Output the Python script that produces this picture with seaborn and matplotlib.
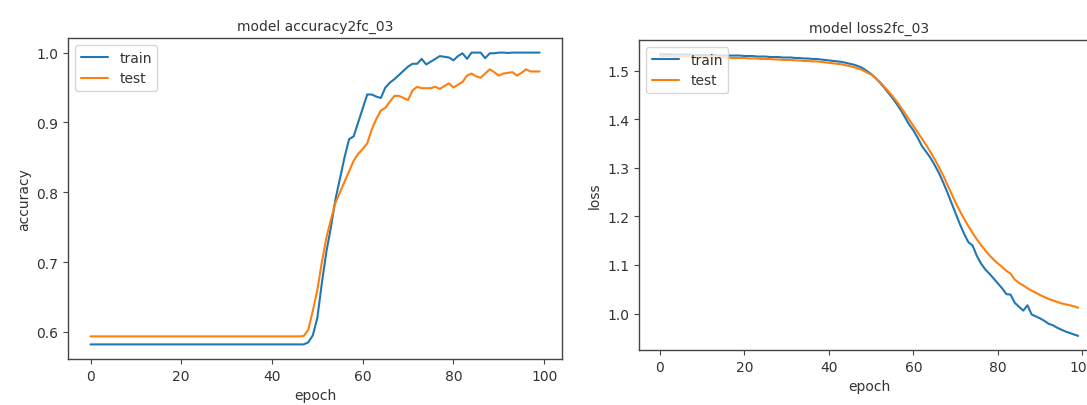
import numpy as np
import pandas as pd
import matplotlib
matplotlib.use("Agg")
import matplotlib.pyplot as plt
import seaborn as sns

# ---- training history (per epoch) ----
acc_train = [
    0.582, 0.582, 0.582, 0.582, 0.582, 0.582, 0.582, 0.582, 0.582, 0.582,
    0.582, 0.582, 0.582, 0.582, 0.582, 0.582, 0.582, 0.582, 0.582, 0.582,
    0.582, 0.582, 0.582, 0.582, 0.582, 0.582, 0.582, 0.582, 0.582, 0.582,
    0.582, 0.582, 0.582, 0.582, 0.582, 0.582, 0.582, 0.582, 0.582, 0.582,
    0.582, 0.582, 0.582, 0.582, 0.582, 0.582, 0.582, 0.582, 0.585, 0.595,
    0.620, 0.670, 0.715, 0.750, 0.790, 0.820, 0.850, 0.876, 0.880, 0.900,
    0.920, 0.940, 0.940, 0.937, 0.935, 0.950, 0.957, 0.962, 0.968, 0.974,
    0.980, 0.984, 0.984, 0.991, 0.983, 0.987, 0.991, 0.995, 0.994, 0.993,
    0.989, 0.995, 0.999, 0.991, 1.000, 1.000, 1.000, 0.992, 0.999, 0.999,
    1.000, 1.000, 0.9995, 1.000, 1.000, 1.000, 1.000, 1.000, 1.000, 1.000,
]
acc_test = [
    0.5935, 0.5935, 0.5935, 0.5935, 0.5935, 0.5935, 0.5935, 0.5935, 0.5935, 0.5935,
    0.5935, 0.5935, 0.5935, 0.5935, 0.5935, 0.5935, 0.5935, 0.5935, 0.5935, 0.5935,
    0.5935, 0.5935, 0.5935, 0.5935, 0.5935, 0.5935, 0.5935, 0.5935, 0.5935, 0.5935,
    0.5935, 0.5935, 0.5935, 0.5935, 0.5935, 0.5935, 0.5935, 0.5935, 0.5935, 0.5935,
    0.5935, 0.5935, 0.5935, 0.5935, 0.5935, 0.5935, 0.5935, 0.594, 0.603, 0.630,
    0.660, 0.700, 0.735, 0.761, 0.785, 0.800, 0.815, 0.830, 0.845, 0.855,
    0.862, 0.870, 0.890, 0.905, 0.917, 0.921, 0.930, 0.938, 0.938, 0.935,
    0.932, 0.946, 0.951, 0.949, 0.949, 0.949, 0.951, 0.948, 0.952, 0.956,
    0.950, 0.954, 0.958, 0.967, 0.970, 0.966, 0.964, 0.970, 0.976, 0.972,
    0.967, 0.970, 0.971, 0.972, 0.967, 0.971, 0.976, 0.973, 0.973, 0.973,
]
loss_train = [
    1.534, 1.534, 1.534, 1.533, 1.533, 1.533, 1.533, 1.533, 1.532, 1.532,
    1.532, 1.532, 1.532, 1.532, 1.531, 1.531, 1.531, 1.531, 1.531, 1.531,
    1.530, 1.530, 1.530, 1.529, 1.529, 1.529, 1.528, 1.528, 1.528, 1.527,
    1.527, 1.527, 1.526, 1.526, 1.525, 1.525, 1.524, 1.524, 1.523, 1.522,
    1.521, 1.520, 1.519, 1.518, 1.516, 1.514, 1.512, 1.509, 1.505, 1.499,
    1.493, 1.485, 1.476, 1.466, 1.455, 1.444, 1.432, 1.419, 1.404, 1.389,
    1.377, 1.362, 1.345, 1.333, 1.321, 1.306, 1.290, 1.271, 1.250, 1.228,
    1.206, 1.184, 1.164, 1.147, 1.140, 1.119, 1.103, 1.091, 1.082, 1.072,
    1.062, 1.052, 1.040, 1.039, 1.022, 1.014, 1.006, 1.017, 0.998, 0.994,
    0.990, 0.985, 0.979, 0.976, 0.971, 0.967, 0.963, 0.960, 0.957, 0.954,
]
loss_test = [
    1.530, 1.530, 1.530, 1.530, 1.529, 1.529, 1.529, 1.529, 1.529, 1.528,
    1.528, 1.528, 1.528, 1.527, 1.527, 1.527, 1.527, 1.526, 1.526, 1.526,
    1.526, 1.525, 1.525, 1.525, 1.524, 1.524, 1.524, 1.523, 1.523, 1.522,
    1.522, 1.522, 1.521, 1.521, 1.520, 1.520, 1.519, 1.519, 1.518, 1.517,
    1.516, 1.515, 1.514, 1.513, 1.511, 1.509, 1.507, 1.504, 1.501, 1.496,
    1.492, 1.485, 1.477, 1.468, 1.458, 1.448, 1.437, 1.425, 1.412, 1.399,
    1.386, 1.373, 1.360, 1.347, 1.333, 1.318, 1.302, 1.285, 1.266, 1.247,
    1.228, 1.211, 1.195, 1.180, 1.166, 1.153, 1.141, 1.130, 1.120, 1.111,
    1.103, 1.096, 1.088, 1.082, 1.070, 1.063, 1.058, 1.052, 1.047, 1.043,
    1.038, 1.034, 1.030, 1.027, 1.024, 1.021, 1.019, 1.017, 1.015, 1.012,
]
series_names = ["train", "test"]
titles = ["model accuracy2fc_03", "model loss2fc_03"]
ylabels = ["accuracy", "loss"]
xlabel = "epoch"

epochs = np.arange(len(acc_train))

sns.set_style("ticks")
plt.rcParams.update({
    "font.family": ["DejaVu Sans"],
    "font.size": 10,
    "axes.titlesize": 10,
    "axes.labelsize": 10,
    "xtick.labelsize": 10,
    "ytick.labelsize": 10,
    "legend.fontsize": 10,
    "axes.edgecolor": "#444444",
    "axes.linewidth": 1.0,
    "xtick.color": "#444444",
    "ytick.color": "#444444",
    "xtick.labelcolor": "#333333",
    "ytick.labelcolor": "#333333",
    "text.color": "#333333",
    "axes.labelcolor": "#333333",
    "xtick.major.size": 3.5,
    "ytick.major.size": 3.5,
})

palette = sns.color_palette("tab10", 2)

fig = plt.figure(figsize=(10.87, 4.06), dpi=100)
ax_acc = fig.add_axes([0.0626, 0.1133, 0.4545, 0.7906])
ax_loss = fig.add_axes([0.5879, 0.1355, 0.4232, 0.7635])

panels = [
    (ax_acc, acc_train, acc_test),
    (ax_loss, loss_train, loss_test),
]
for (ax, tr, te), title, ylab in zip(panels, titles, ylabels):
    df = pd.DataFrame({
        "epoch": np.concatenate([epochs, epochs]),
        "value": np.concatenate([tr, te]),
        "set": [series_names[0]] * len(tr) + [series_names[1]] * len(te),
    })
    sns.lineplot(data=df, x="epoch", y="value", hue="set",
                 palette=palette, linewidth=1.5, ax=ax)
    ax.set_title(title)
    ax.set_xlabel(xlabel)
    ax.set_ylabel(ylab)
    ax.set_xticks([0, 20, 40, 60, 80, 100])
    ax.set_xlim(-4.95, 103.95)
    for s in ax.spines.values():
        s.set_visible(True)
    leg = ax.legend(loc="upper left", frameon=True)
    leg.set_title(None)

ax_acc.set_yticks([0.6, 0.7, 0.8, 0.9, 1.0])
ax_loss.set_yticks([1.0, 1.1, 1.2, 1.3, 1.4, 1.5])

fig.savefig("out.png", dpi=100)
